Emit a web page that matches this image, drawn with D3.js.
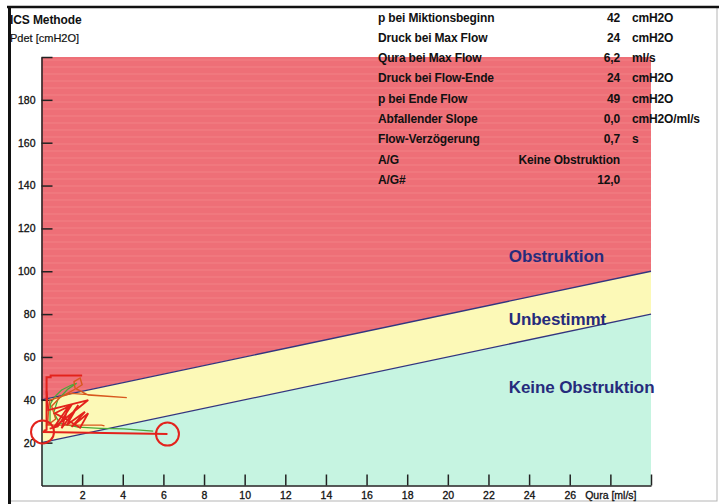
<!DOCTYPE html>
<html>
<head>
<meta charset="utf-8">
<script src="https://cdn.jsdelivr.net/npm/d3@7"></script>
<style>
  html, body { margin: 0; padding: 0; background: #fff; }
  svg { display: block; font-family: "Liberation Sans", Arial, Helvetica, sans-serif; }
</style>
</head>
<body>
<svg id="chart" width="719" height="504"></svg>
<script>
// ICS nomogram: detrusor pressure vs. urine flow
const xTickValues = [2, 4, 6, 8, 10, 12, 14, 16, 18, 20, 22, 24, 26, 28, 30];
const xTickLabels = ["2", "4", "6", "8", "10", "12", "14", "16", "18", "20", "22", "24", "26", "Qura [ml/s]", ""];
const yTickValues = [20, 40, 60, 80, 100, 120, 140, 160, 180, 200];
const yTickLabels = ["20", "40", "60", "80", "100", "120", "140", "160", "180", ""];

const paramNames = ["p bei Miktionsbeginn", "Druck bei Max Flow", "Qura bei Max Flow", "Druck bei Flow-Ende",
  "p bei Ende Flow", "Abfallender Slope", "Flow-Verzögerung", "A/G", "A/G#"];
const paramValues = ["42", "24", "6,2", "24", "49", "0,0", "0,7", "Keine Obstruktion", "12,0"];
const paramUnits = ["cmH2O", "cmH2O", "ml/s", "cmH2O", "cmH2O", "cmH2O/ml/s", "s", "", ""];

// boundary lines of the nomogram [Qura, Pdet]
const obstructedLine = [[0, 40], [30, 100]];
const unobstructedLine = [[0, 20], [30, 80]];
const zoneNames = ["Obstruktion", "Unbestimmt", "Keine Obstruktion"];

// measured pressure-flow loop [Qura, Pdet]
const traceRedOuter = [[0.1, 25.5], [0.25, 26], [0.25, 50.5], [0.45, 50.5], [0.45, 51.3], [2.0, 51.3]];
const traceRedLoop = [[0.25, 44], [0.33, 35.2], [2.3, 39.9], [0.58, 26.7], [1.32, 36.8], [0.99, 26.7],
  [1.81, 37.6], [1.24, 28.2], [2.14, 34.4], [1.48, 27.4], [2.3, 33.7], [1.9, 27], [1.2, 31],
  [0.66, 33.7], [1.48, 37.6], [0.8, 27.5], [0.4, 26.5]];
const traceOrange = [[0.3, 28.2], [0.35, 36], [0.42, 39.9], [1.48, 43], [4.2, 41], [2.3, 42.2],
  [1.65, 45.4], [1.6, 48.5], [1.9, 50.2], [2.0, 47], [1.75, 45.5], [0.9, 41], [0.5, 37],
  [0.7, 31], [0.3, 28.2], [2.95, 28.2], [3.1, 27.8]];
const traceGreen = [[0.42, 29.4], [0.42, 35.2], [0.45, 38.3], [0.66, 41.5], [0.99, 44.6],
  [1.48, 46.9], [1.73, 47.7], [1.3, 45], [0.8, 40], [0.6, 34], [0.9, 29], [1.8, 27.2],
  [2.9, 26.7], [4.05, 26.4], [5.5, 25.4]];
const maxFlowLine = [[0.05, 25], [6.2, 24]];
const markers = [[0.05, 25], [6.2, 24]];

const svg = d3.select("#chart");
const x = d3.scaleLinear().domain([0, 30]).range([41.5, 651]);
const y = d3.scaleLinear().domain([0, 200]).range([485.5, 57]);
const line = d3.line().x(d => x(d[0])).y(d => y(d[1]));

// outer frame
svg.append("rect").attr("x", 9).attr("y", 7).attr("width", 708).attr("height", 494)
  .attr("fill", "none").attr("stroke", "#b5b5b5").attr("stroke-width", 1);
svg.append("line").attr("x1", 7).attr("x2", 719).attr("y1", 7).attr("y2", 7)
  .attr("stroke", "#111").attr("stroke-width", 2.5);
svg.append("line").attr("x1", 9.5).attr("x2", 9.5).attr("y1", 6).attr("y2", 504)
  .attr("stroke", "#111").attr("stroke-width", 3);

// zones
const [x0, x1] = x.domain();
const [yb, yt] = y.domain();
const zoneRed = [[x0, yt], [x1, yt], obstructedLine[1], obstructedLine[0]];
const zoneYellow = [obstructedLine[0], obstructedLine[1], unobstructedLine[1], unobstructedLine[0]];
const zoneMint = [unobstructedLine[0], unobstructedLine[1], [x1, yb], [x0, yb]];
const area = d3.line().x(d => x(d[0])).y(d => y(d[1])).curve(d3.curveLinearClosed);

svg.append("path").attr("d", area(zoneMint)).attr("fill", "#c6f4e1");
svg.append("path").attr("d", area(zoneYellow)).attr("fill", "#fcf9b7");
svg.append("path").attr("d", area(zoneRed)).attr("fill", "#ee6f77");

// faint print stripes in the red zone
svg.append("clipPath").attr("id", "redClip").append("path").attr("d", area(zoneRed));
const stripes = d3.range(y(yt) + 3, y(obstructedLine[0][1]), 7);
svg.append("g").attr("clip-path", "url(#redClip)")
  .selectAll("line").data(stripes).join("line")
  .attr("x1", x(x0)).attr("x2", x(x1))
  .attr("y1", d => d).attr("y2", d => d)
  .attr("stroke", "#f6aaa2").attr("stroke-opacity", 0.35).attr("stroke-width", 1);

// boundary lines
[obstructedLine, unobstructedLine].forEach(l => {
  svg.append("path").attr("d", line(l)).attr("fill", "none")
    .attr("stroke", "#33357f").attr("stroke-width", 1.3);
});

// zone labels
const zoneLabelP = [104.3, 74.8, 43.2];
svg.append("g").selectAll("text").data(zoneNames).join("text")
  .attr("x", x(23.0)).attr("y", (d, i) => y(zoneLabelP[i]))
  .attr("font-size", 17).attr("font-weight", "bold").attr("fill", "#262b7c")
  .attr("letter-spacing", -0.1)
  .text(d => d);

// axes
const tickFont = "\"Liberation Sans\", Arial, sans-serif";
const xAxis = d3.axisBottom(x).tickValues(xTickValues).tickSize(0).tickPadding(6)
  .tickFormat((d, i) => xTickLabels[i]);
const gx = svg.append("g").attr("transform", `translate(0,${y(0)})`).call(xAxis);
gx.select(".domain").attr("stroke", "#222").attr("stroke-width", 1.5);
gx.selectAll(".tick line").attr("y2", -11).attr("stroke", "#222").attr("stroke-width", 1.5);
gx.selectAll(".tick text").attr("font-size", 10.5).attr("fill", "#111")
  .attr("stroke", "#111").attr("stroke-width", 0.3).attr("font-family", tickFont);

const yAxis = d3.axisLeft(y).tickValues(yTickValues).tickSize(0).tickPadding(6)
  .tickFormat((d, i) => yTickLabels[i]);
const gy = svg.append("g").attr("transform", `translate(${x(0)},0)`).call(yAxis);
gy.select(".domain").attr("stroke", "#222").attr("stroke-width", 1.5);
gy.selectAll(".tick line").attr("x2", 11).attr("stroke", "#222").attr("stroke-width", 1.5);
gy.selectAll(".tick text").attr("font-size", 10.5).attr("fill", "#111")
  .attr("stroke", "#111").attr("stroke-width", 0.3).attr("font-family", tickFont);

// pressure-flow traces
svg.append("path").attr("d", line(traceGreen)).attr("fill", "none")
  .attr("stroke", "#4aa83a").attr("stroke-width", 1.3);
svg.append("path").attr("d", line(traceOrange)).attr("fill", "none")
  .attr("stroke", "#d8581e").attr("stroke-width", 1.4);
svg.append("path").attr("d", line(traceRedLoop)).attr("fill", "none")
  .attr("stroke", "#e3221c").attr("stroke-width", 1.8);
svg.append("path").attr("d", line(traceRedOuter)).attr("fill", "none")
  .attr("stroke", "#e3221c").attr("stroke-width", 2);
svg.append("path").attr("d", line(maxFlowLine)).attr("fill", "none")
  .attr("stroke", "#e3221c").attr("stroke-width", 2);
svg.append("g").selectAll("circle").data(markers).join("circle")
  .attr("cx", d => x(d[0])).attr("cy", d => y(d[1])).attr("r", 11.5)
  .attr("fill", "none").attr("stroke", "#e3221c").attr("stroke-width", 2);

// titles
svg.append("text").attr("x", 10).attr("y", 24).attr("font-size", 12).attr("font-weight", "bold")
  .attr("fill", "#111").attr("letter-spacing", -0.1).text("ICS Methode");
svg.append("text").attr("x", 10).attr("y", 42).attr("font-size", 11)
  .attr("fill", "#111").attr("stroke", "#111").attr("stroke-width", 0.2).text("Pdet [cmH2O]");

// parameter table
const rowY = i => 21.5 + i * 20.3;
const table = svg.append("g").attr("font-size", 12).attr("font-weight", "bold").attr("fill", "#111")
  .attr("letter-spacing", -0.15);
table.selectAll("text.name").data(paramNames).join("text").attr("class", "name")
  .attr("x", 378).attr("y", (d, i) => rowY(i)).text(d => d);
table.selectAll("text.val").data(paramValues).join("text").attr("class", "val")
  .attr("x", 620).attr("y", (d, i) => rowY(i)).attr("text-anchor", "end").text(d => d);
table.selectAll("text.unit").data(paramUnits).join("text").attr("class", "unit")
  .attr("x", 632).attr("y", (d, i) => rowY(i)).text(d => d);
</script>
</body>
</html>
